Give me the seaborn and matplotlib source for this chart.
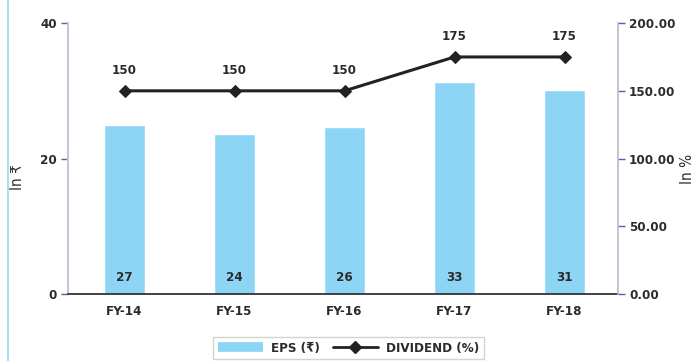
import numpy as np
import matplotlib
matplotlib.use("Agg")
import matplotlib.pyplot as plt
import seaborn as sns
from matplotlib.lines import Line2D

years = ["FY-14", "FY-15", "FY-16", "FY-17", "FY-18"]
# bar heights as drawn in the reference, and the printed EPS labels
eps_bar = [24.9, 23.6, 24.6, 31.3, 30.1]
eps_labels = ["27", "24", "26", "33", "31"]
dividend = [150, 150, 150, 175, 175]
div_labels = ["150", "150", "150", "175", "175"]

sns.set_theme(style="white")
plt.rcParams["font.family"] = ["DejaVu Sans"]
plt.rcParams["font.stretch"] = "condensed"

bar_col = "#8DD5F5"
txt_col = "#2b2b2b"
fs = 9.5

fig = plt.figure(figsize=(6.97, 3.61), dpi=100)
ax = fig.add_axes([0.0976, 0.1856, 0.789, 0.7504])

sns.barplot(x=years, y=eps_bar, color=bar_col, width=0.37, saturation=1, ax=ax)
ax.set_xlim(-0.514, 4.486)
ax.set_ylim(0, 40)
ax.set_yticks([0, 20, 40])
ax.tick_params(axis="y", direction="out", length=5, width=1, color="#5b5bb0",
               labelsize=fs, labelcolor=txt_col, pad=3)
ax.tick_params(axis="x", length=0, labelsize=fs, labelcolor=txt_col, pad=8)
for lab in ax.get_xticklabels() + ax.get_yticklabels():
    lab.set_fontweight("bold")
ax.set_ylabel("In ₹", fontsize=11, color=txt_col, va="center")
ax.yaxis.set_label_coords(-0.091, 0.43)
for i, t in enumerate(eps_labels):
    ax.text(i, 1.5, t, ha="center", va="bottom", fontsize=fs, fontweight="bold",
            color=txt_col)

ax.spines["top"].set_visible(False)
ax.spines["left"].set_color("#c6c6d6")
ax.spines["left"].set_linewidth(1.5)
ax.spines["right"].set_visible(False)
ax.spines["bottom"].set_color("#333333")
ax.spines["bottom"].set_linewidth(1.3)

ax2 = ax.twinx()
sns.lineplot(x=np.arange(len(years)), y=dividend, ax=ax2, color="#222222",
             linewidth=2.2, marker="D", markersize=6.5, markeredgecolor="#222222")
ax2.set_ylim(0, 200)
ax2.set_yticks([0, 50, 100, 150, 200])
ax2.set_yticklabels([f"{v:.2f}" for v in [0, 50, 100, 150, 200]])
ax2.tick_params(axis="y", direction="out", length=5, width=1, color="#5b5bb0",
                labelsize=fs, labelcolor=txt_col, pad=3)
for lab in ax2.get_yticklabels():
    lab.set_fontweight("bold")
ax2.set_ylabel("In %", fontsize=11, color=txt_col, rotation=90, va="center")
ax2.yaxis.set_label_coords(1.127, 0.46)
for i, t in enumerate(div_labels):
    ax2.text(i, dividend[i] + 10, t, ha="center", va="bottom", fontsize=fs,
             fontweight="bold", color=txt_col)
ax2.spines["top"].set_visible(False)
ax2.spines["left"].set_visible(False)
ax2.spines["bottom"].set_visible(False)
ax2.spines["right"].set_color("#b9b9cc")
ax2.spines["right"].set_linewidth(1.2)

handles = [Line2D([0], [0], color=bar_col, linewidth=7, solid_capstyle="butt"),
           Line2D([0], [0], color="#222222", linewidth=2, marker="D", markersize=6)]
leg = fig.legend(handles, ["EPS (₹)", "DIVIDEND (%)"], loc="center",
                 bbox_to_anchor=(0.5, 0.035), ncol=2, frameon=True, fancybox=False,
                 edgecolor="#c8c8c8", fontsize=fs, handlelength=3.4,
                 columnspacing=1.0, handletextpad=0.6, borderpad=0.35)
for t in leg.get_texts():
    t.set_fontweight("bold")
    t.set_color(txt_col)

# thin frame line at the left edge of the reference image
fig.add_artist(Line2D([8 / 697, 8 / 697], [0, 1], color="#9fd8f2", linewidth=1.2,
                      transform=fig.transFigure))

fig.savefig("out.png", dpi=100)
